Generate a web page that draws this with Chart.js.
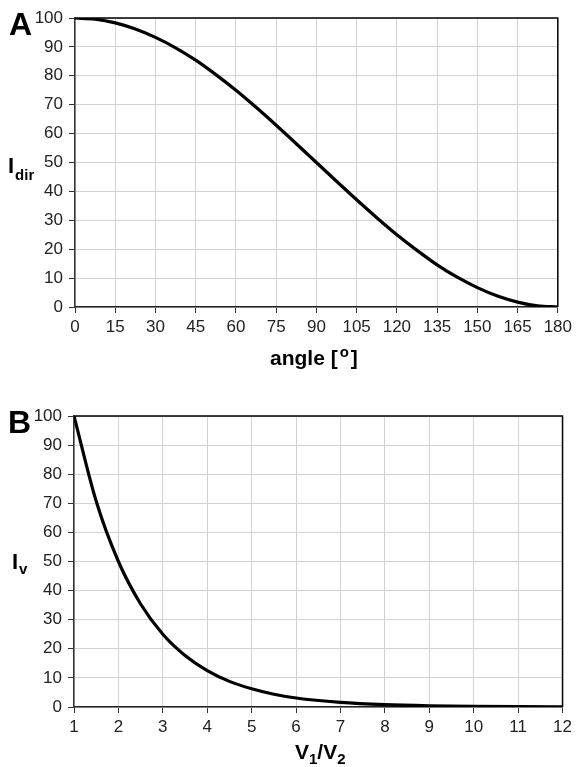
<!DOCTYPE html>
<html>
<head>
<meta charset="utf-8">
<script src="https://cdn.jsdelivr.net/npm/chart.js@4.4.1/dist/chart.umd.min.js"></script>
<style>
    html, body { margin: 0; padding: 0; background: #fff; }
    .panel { position: absolute; left: 0; width: 576px; }
    #panelA { top: 0; height: 383px; }
    #panelB { top: 383px; height: 384px; }
</style>
</head>
<body>
<div class="panel" id="panelA"><canvas id="chartA" width="576" height="383"></canvas></div>
<div class="panel" id="panelB"><canvas id="chartB" width="576" height="384"></canvas></div>
<script>
// Panel A: directional intensity vs angle
const angleDeg = [0, 7.5, 15, 22.5, 30, 37.5, 45, 52.5, 60, 67.5, 75, 82.5, 90,
    97.5, 105, 112.5, 120, 127.5, 135, 142.5, 150, 157.5, 165, 172.5, 180];
const intensityDir = [100, 99.6, 98.3, 96.2, 93.3, 89.7, 85.4, 80.4, 75, 69.1, 62.9, 56.5, 50,
    43.5, 37.1, 30.9, 25, 19.6, 14.6, 10.3, 6.7, 3.8, 1.7, 0.4, 0];
const angleTicks = [0, 15, 30, 45, 60, 75, 90, 105, 120, 135, 150, 165, 180];

// Panel B: intensity vs velocity ratio
const velRatio = [1, 1.5, 2, 2.5, 3, 3.5, 4, 4.5, 5, 5.5, 6, 7, 8, 9, 10, 11, 12];
const intensityV = [100, 70.7, 50, 35.4, 25, 17.7, 12.5, 8.8, 6.25, 4.4, 3.1, 1.6, 0.8, 0.4, 0.2, 0.1, 0.05];
const ratioTicks = [1, 2, 3, 4, 5, 6, 7, 8, 9, 10, 11, 12];

const yTicks = [0, 10, 20, 30, 40, 50, 60, 70, 80, 90, 100];

const FONT = '"Liberation Sans", Arial, sans-serif';

// draws the black frame on top/right plus free text labels
function framePlugin(labels) {
    return {
        id: 'frame',
        afterDraw(chart) {
            const { ctx, chartArea: a } = chart;
            ctx.save();
            ctx.strokeStyle = '#000';
            ctx.lineWidth = 1.5;
            ctx.beginPath();
            ctx.moveTo(a.left, a.top);
            ctx.lineTo(a.right, a.top);
            ctx.lineTo(a.right, a.bottom);
            ctx.stroke();
            ctx.fillStyle = '#000';
            labels.forEach(part => {
                ctx.textAlign = 'left';
                ctx.textBaseline = 'alphabetic';
                let x = part.x;
                part.runs.forEach(run => {
                    ctx.font = run.font;
                    ctx.fillText(run.text, x, part.y + (run.dy || 0));
                    x += ctx.measureText(run.text).width + (run.gap || 0);
                });
            });
            ctx.restore();
        }
    };
}

function makeChart(id, xs, ys, xTicks, box, labels) {
    const canvas = document.getElementById(id);
    const H = canvas.height;
    const points = xs.map((x, i) => ({ x: x, y: ys[i] }));
    return new Chart(canvas, {
        type: 'line',
        data: {
            datasets: [{
                data: points,
                borderColor: '#000',
                borderWidth: 3.2,
                pointRadius: 0,
                cubicInterpolationMode: 'monotone',
                fill: false
            }]
        },
        options: {
            responsive: false,
            animation: false,
            events: [],
            layout: { padding: { left: 0, right: 576 - box.right, top: box.top, bottom: 0 } },
            plugins: { legend: { display: false }, tooltip: { enabled: false } },
            scales: {
                x: {
                    type: 'linear',
                    min: xTicks[0],
                    max: xTicks[xTicks.length - 1],
                    afterBuildTicks: s => { s.ticks = xTicks.map(v => ({ value: v })); },
                    afterFit: s => { s.height = H - box.bottom; },
                    grid: { color: '#d2d2d2', lineWidth: 1, tickColor: '#333', tickLength: 6 },
                    border: { color: '#222', width: 1.5 },
                    ticks: { color: '#222', font: { family: FONT, size: 17 }, padding: 4, maxRotation: 0 }
                },
                y: {
                    min: 0,
                    max: 100,
                    afterBuildTicks: s => { s.ticks = yTicks.map(v => ({ value: v })); },
                    afterFit: s => { s.width = box.left; },
                    grid: { color: '#d2d2d2', lineWidth: 1, tickColor: '#333', tickLength: 6 },
                    border: { color: '#333', width: 1.5 },
                    ticks: { color: '#222', font: { family: FONT, size: 17 }, padding: 6 }
                }
            }
        },
        plugins: [framePlugin(labels)]
    });
}

const bold = s => 'bold ' + s + 'px ' + FONT;

makeChart('chartA', angleDeg, intensityDir, angleTicks,
    { left: 75, right: 560, top: 18, bottom: 307 },
    [
        { x: 9, y: 35, runs: [{ text: 'A', font: bold(32) }] },
        { x: 8, y: 173, runs: [{ text: 'I', font: bold(22), gap: 1 }, { text: 'dir', font: bold(15), dy: 7 }] },
        { x: 270, y: 365, runs: [{ text: 'angle [', font: bold(21), gap: 2 }, { text: 'o', font: bold(15), dy: -8, gap: 2 }, { text: ']', font: bold(21) }] }
    ]);

makeChart('chartB', velRatio, intensityV, ratioTicks,
    { left: 74, right: 566, top: 33, bottom: 324 },
    [
        { x: 8, y: 50, runs: [{ text: 'B', font: bold(32) }] },
        { x: 12, y: 186, runs: [{ text: 'I', font: bold(22), gap: 1 }, { text: 'v', font: bold(15), dy: 5 }] },
        { x: 295, y: 376, runs: [{ text: 'V', font: bold(21), gap: 0 }, { text: '1', font: bold(15), dy: 5 }, { text: '/V', font: bold(21) }, { text: '2', font: bold(15), dy: 5 }] }
    ]);
</script>
</body>
</html>
